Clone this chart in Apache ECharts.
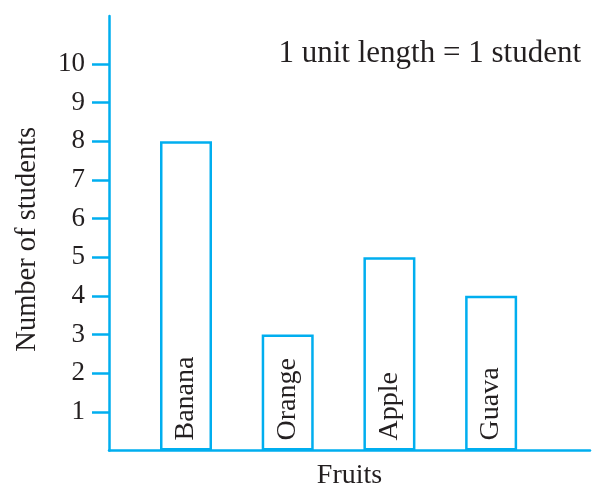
<!DOCTYPE html>
<html>
<head>
<meta charset="utf-8">
<script src="https://cdn.jsdelivr.net/npm/echarts@6/dist/echarts.min.js"></script>
<style>html,body{margin:0;padding:0;background:#fff}#c{width:595px;height:485px}</style>
</head>
<body>
<div id="c"></div>
<script>
const categories = ['Banana', 'Orange', 'Apple', 'Guava'];
const values = [8, 3, 5, 4];
const yTicks = [1, 2, 3, 4, 5, 6, 7, 8, 9, 10];
const noteText = '1 unit length = 1 student';
const xName = 'Fruits';
const yName = 'Number of students';

const blue = '#00AEEF';
const ink = '#231f20';
const font = 'Liberation Serif';

const chart = echarts.init(document.getElementById('c'), null, {renderer: 'canvas'});
chart.setOption({
  animation: false,
  backgroundColor: '#fff',
  title: {
    text: noteText, right: 9, top: 33,
    textStyle: {fontFamily: font, fontSize: 31, fontWeight: 'normal', color: ink}
  },
  grid: {left: 109, right: 5, top: 16, bottom: 34.5, containLabel: false, outerBoundsMode: 'none'},
  xAxis: {
    type: 'value', min: -0.757, max: 3.972,
    name: xName, nameLocation: 'middle', nameGap: 11,
    nameTextStyle: {fontFamily: font, fontSize: 28, color: ink, verticalAlign: 'top'},
    axisLine: {show: true, onZero: false, lineStyle: {color: blue, width: 2.5}},
    axisTick: {show: false}, axisLabel: {show: false}, splitLine: {show: false}
  },
  yAxis: {
    type: 'value', min: 0, max: 11.24, interval: 1,
    name: yName, nameLocation: 'middle', nameGap: 67,
    nameTextStyle: {fontFamily: font, fontSize: 28.5, color: ink, padding: [0, 12, 0, 0]},
    axisLine: {show: true, onZero: false, lineStyle: {color: blue, width: 2.5}},
    axisTick: {show: true, length: 17, customValues: yTicks, lineStyle: {color: blue, width: 2.5}},
    axisLabel: {show: true, customValues: yTicks, margin: 24, fontFamily: font, fontSize: 27, color: ink},
    splitLine: {show: false}
  },
  series: [{
    type: 'bar',
    barWidth: 52,
    data: values.map((v, i) => [i, v]),
    itemStyle: {color: '#fff', borderColor: blue, borderWidth: 2.5},
    label: {
      show: true, position: 'insideBottom', distance: 10, rotate: 90,
      align: 'left', verticalAlign: 'middle',
      formatter: p => categories[p.dataIndex],
      fontFamily: font, fontSize: 28, color: ink
    }
  }]
});
</script>
</body>
</html>
